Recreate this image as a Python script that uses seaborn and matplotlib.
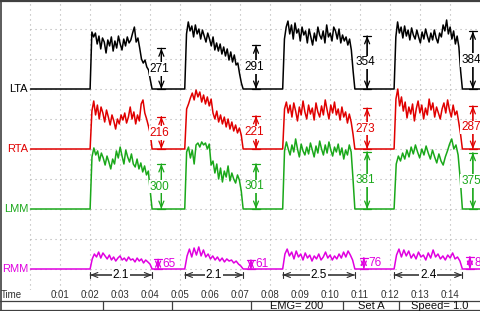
import numpy as np
import pandas as pd
import matplotlib
matplotlib.use("Agg")
import matplotlib.pyplot as plt
from matplotlib.lines import Line2D
import seaborn as sns

# ---------------- data ----------------
channels = ["LTA", "RTA", "LMM", "RMM"]
colors = {"LTA": "#000000", "RTA": "#e00000", "LMM": "#1aa81a", "RMM": "#e000e0"}
onsets = [1.99, 5.15, 8.42, 12.14]
offsets = [4.06, 7.10, 10.83, 14.42]
durations = ["2.1", "2.1", "2.5", "2.4"]
time_ticks = list(range(1, 15))
time_labels = ["0:%02d" % s for s in time_ticks]

lta_b1 = [0, 380, 347, 373, 300, 353, 267, 340, 313, 240, 327, 287, 347, 253, 320, 273, 353, 300, 260, 333, 287, 347, 307, 327, 373, 413, 313, 340, 273, 200, 173, 193, 147, 127, 60, 0]
lta_b2 = [0, 367, 447, 387, 420, 347, 427, 367, 400, 333, 393, 353, 313, 373, 333, 287, 347, 260, 307, 253, 300, 233, 280, 220, 267, 193, 247, 180, 227, 160, 173, 100, 40, 0]
lta_b3 = [0, 333, 413, 453, 367, 427, 333, 440, 373, 400, 320, 413, 360, 387, 307, 400, 347, 293, 373, 320, 413, 360, 333, 387, 307, 427, 347, 373, 320, 413, 387, 333, 400, 307, 360, 320, 347, 293, 333, 260, 120, 0]
lta_b4 = [0, 347, 447, 373, 413, 340, 420, 353, 393, 327, 407, 360, 333, 393, 347, 307, 380, 333, 400, 353, 313, 373, 327, 393, 340, 307, 373, 347, 427, 387, 460, 367, 413, 333, 387, 300, 353, 280, 120, 0]

rta_b1 = [0, 253, 320, 227, 293, 200, 280, 240, 180, 260, 213, 160, 227, 187, 133, 200, 167, 227, 193, 240, 173, 213, 280, 200, 247, 167, 227, 187, 300, 327, 240, 200, 153, 100, 0]
rta_b2 = [0, 267, 300, 340, 373, 327, 393, 347, 380, 313, 360, 300, 347, 287, 333, 240, 200, 253, 180, 227, 167, 213, 147, 200, 133, 180, 120, 160, 107, 140, 93, 0]
rta_b3 = [0, 267, 313, 240, 293, 213, 307, 253, 187, 280, 227, 320, 247, 200, 293, 233, 273, 193, 307, 247, 213, 287, 227, 327, 260, 200, 293, 240, 313, 227, 267, 193, 280, 213, 247, 173, 233, 180, 100, 0]
rta_b4 = [0, 333, 400, 287, 347, 253, 313, 207, 280, 233, 300, 187, 267, 320, 240, 293, 200, 273, 227, 333, 260, 307, 213, 280, 240, 200, 267, 307, 240, 327, 260, 213, 293, 227, 253, 180, 100, 0]

lmm_b1 = [0, 347, 407, 360, 387, 320, 373, 340, 293, 353, 313, 267, 333, 300, 387, 340, 413, 353, 300, 393, 347, 313, 367, 300, 280, 333, 267, 307, 247, 287, 227, 253, 120, 0]
lmm_b2 = [0, 380, 413, 340, 393, 300, 427, 440, 413, 447, 427, 440, 400, 433, 293, 320, 240, 300, 200, 273, 180, 253, 213, 287, 187, 240, 200, 173, 227, 193, 120, 0]
lmm_b3 = [0, 387, 447, 400, 360, 427, 380, 467, 400, 347, 433, 387, 360, 413, 367, 440, 393, 347, 420, 373, 453, 400, 360, 427, 373, 447, 393, 353, 413, 380, 433, 360, 407, 333, 393, 360, 427, 380, 200, 0]
lmm_b4 = [0, 300, 353, 320, 373, 333, 393, 347, 413, 367, 427, 380, 340, 400, 360, 420, 373, 333, 393, 347, 307, 367, 320, 293, 347, 387, 433, 467, 400, 427, 360, 200, 0]

rmm_b1 = [0, 67, 100, 80, 113, 73, 107, 87, 67, 93, 60, 80, 53, 73, 87, 60, 73, 53, 80, 60, 67, 47, 73, 53, 67, 40, 60, 47, 33, 0]
rmm_b2 = [0, 87, 133, 80, 140, 93, 147, 87, 127, 80, 100, 67, 87, 60, 80, 53, 73, 47, 67, 53, 60, 40, 53, 33, 20, 0]
rmm_b3 = [0, 100, 133, 87, 113, 67, 120, 80, 100, 60, 107, 73, 93, 53, 87, 67, 100, 60, 80, 113, 73, 93, 60, 87, 67, 100, 73, 113, 80, 120, 93, 60, 0]
rmm_b4 = [0, 93, 133, 80, 127, 87, 120, 73, 100, 67, 113, 80, 93, 60, 107, 73, 127, 80, 100, 67, 87, 60, 93, 73, 107, 67, 80, 53, 0]

bursts = {
    "LTA": [lta_b1, lta_b2, lta_b3, lta_b4],
    "RTA": [rta_b1, rta_b2, rta_b3, rta_b4],
    "LMM": [lmm_b1, lmm_b2, lmm_b3, lmm_b4],
    "RMM": [rmm_b1, rmm_b2, rmm_b3, rmm_b4],
}
amplitudes = {
    "LTA": [271, 291, 354, 384],
    "RTA": [216, 221, 273, 287],
    "LMM": [300, 301, 381, 375],
    "RMM": [65, 61, 76, 83],
}
amp_x = [4.37, 7.53, 11.24, 14.77]
amp_x_rmm = [4.26, 7.36, 11.13, 14.67]

# ---------------- layout ----------------
baseline = {"LTA": 1200, "RTA": 800, "LMM": 400, "RMM": 0}
t_end = 15.2

rows = []
for ch in channels:
    b = baseline[ch]
    rows.append((ch, 0.0, b))
    for on, off, vals in zip(onsets, offsets, bursts[ch]):
        ts = np.linspace(on, off, len(vals))
        for t, v in zip(ts, vals):
            rows.append((ch, t, b + v))
    rows.append((ch, t_end, b))
df = pd.DataFrame(rows, columns=["channel", "t", "y"])

sns.set_style("white")
plt.rcParams["font.family"] = ["Liberation Sans", "DejaVu Sans"]

W, H = 481, 311
fig = plt.figure(figsize=(W / 100, H / 100), dpi=100)
ax_bottom_px = 290
ax = fig.add_axes([0, (H - ax_bottom_px) / H, 1, ax_bottom_px / H])

px_per_s = 29.95
t0_px = 30.5
u_per_px = 400 / 60.0
rmm_px = 269
xmin = -t0_px / px_per_s
xmax = (W - t0_px) / px_per_s
ymax = rmm_px * u_per_px
ymin = (rmm_px - ax_bottom_px) * u_per_px
ax.set_xlim(xmin, xmax)
ax.set_ylim(ymin, ymax)

grid_kw = dict(color="#b0b0b0", lw=0.8, linestyle=(0, (1, 3.5)), zorder=0)
ax.vlines(np.arange(0, 15), ymin, ymax, **grid_kw)
ax.hlines(np.arange(0, 1601, 200), 0, xmax, **grid_kw)

sns.lineplot(data=df, x="t", y="y", hue="channel", palette=colors,
             estimator=None, sort=False, legend=False, lw=1.1, ax=ax, zorder=3)

for ch in channels:
    ax.text(-0.08, baseline[ch], ch, ha="right", va="center", fontsize=8,
            color=colors[ch], zorder=5)


def dim_arrow(p0, p1, color, lw, bar_w):
    ax.annotate("", xy=p1, xytext=p0,
                arrowprops=dict(arrowstyle="<->,head_length=0.45,head_width=0.18",
                                color=color, lw=lw, shrinkA=0, shrinkB=0), zorder=4)
    ax.annotate("", xy=p1, xytext=p0,
                arrowprops=dict(arrowstyle="|-|,widthA=%.2f,widthB=%.2f" % (bar_w, bar_w),
                                color=color, lw=lw, shrinkA=0, shrinkB=0), zorder=4)


for ch in channels:
    b = baseline[ch]
    xs = amp_x_rmm if ch == "RMM" else amp_x
    for x, a in zip(xs, amplitudes[ch]):
        dim_arrow((x, b), (x, b + a), colors[ch], 0.9, 0.28)
        if ch == "RMM":
            ax.text(x + 0.14, b + a / 2, str(a), ha="left", va="center", fontsize=8.5,
                    color=colors[ch], zorder=5)
        else:
            ax.text(x - 0.06, b + a / 2, str(a), ha="center", va="center", fontsize=8.5,
                    color=colors[ch], zorder=5,
                    bbox=dict(facecolor="white", edgecolor="none", pad=0.6))

dur_y = -6 * u_per_px
for on, off, d in zip(onsets, offsets, durations):
    dim_arrow((on, dur_y), (off, dur_y), "#303030", 0.8, 0.25)
    ax.text((on + off) / 2, dur_y, d, ha="center", va="center", fontsize=8.5,
            color="#000000", zorder=5,
            bbox=dict(facecolor="white", edgecolor="none", pad=0.5))

ax.set_xticks(time_ticks)
ax.set_xticklabels(time_labels)
ax.set_yticks([])
ax.tick_params(axis="x", length=0, pad=0.3, labelsize=7, labelcolor="#303030")
ax.set_xlabel("")
ax.set_ylabel("")
for s in ax.spines.values():
    s.set_visible(False)

fig.text(1 / W, 1 - 294.5 / H, "Time", ha="left", va="center", fontsize=7, color="#303030")


def hline_px(y, x0=0, x1=W, lw=1.0, c="#404040"):
    fig.add_artist(Line2D([x0 / W, x1 / W], [1 - y / H, 1 - y / H], lw=lw, color=c))


def vline_px(x, y0, y1, lw=1.0, c="#404040"):
    fig.add_artist(Line2D([x / W, x / W], [1 - y0 / H, 1 - y1 / H], lw=lw, color=c))


hline_px(0.8, lw=1.6)
vline_px(0.5, 0, H, lw=1.2)
hline_px(300.5, lw=0.9)
hline_px(310.3, lw=0.9)
for xs_ in [103, 172, 251, 343, 399]:
    vline_px(xs_, 300.5, H, lw=0.9)

status = [("EMG= 200", 297), ("Set A", 371), ("Speed= 1.0", 440)]
for txt, cx in status:
    fig.text(cx / W, 1 - 305.6 / H, txt, ha="center", va="center", fontsize=8, color="#101010")

fig.savefig("out.png", dpi=100)
